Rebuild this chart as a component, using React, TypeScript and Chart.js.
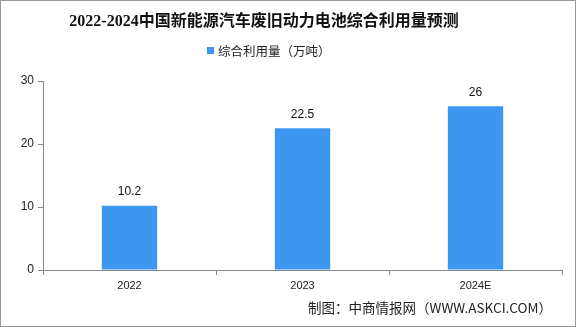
import React, { useEffect, useRef } from "react";
import { Chart, registerables } from "chart.js";

Chart.register(...registerables);

const categories = ["2022", "2023", "2024E"];
const values = [10.2, 22.5, 26];
const seriesName = "综合利用量（万吨）";
const titleText = "2022-2024中国新能源汽车废旧动力电池综合利用量预测";
const sourceText = "制图：中商情报网（WWW.ASKCI.COM）";
const yTicks = [0, 10, 20, 30];

const BAR = "#3d96ef";

const overlay = {
  id: "overlay",
  afterDraw(chart: any) {
    const ctx = chart.ctx;
    ctx.save();
    // title
    ctx.fillStyle = "#111";
    ctx.font = "bold 16px 'Liberation Serif', 'Noto Sans CJK SC', serif";
    ctx.textAlign = "center";
    ctx.textBaseline = "middle";
    ctx.fillText(titleText, 264, 22);
    // legend
    ctx.fillStyle = BAR;
    ctx.fillRect(207, 47, 7, 7);
    ctx.fillStyle = "#222";
    ctx.font = "12.5px 'Noto Sans CJK SC', sans-serif";
    ctx.textAlign = "left";
    ctx.fillText(seriesName, 218, 51);
    // data labels
    const meta = chart.getDatasetMeta(0);
    ctx.font = "12px 'Liberation Sans', 'DejaVu Sans', sans-serif";
    ctx.textAlign = "center";
    ctx.textBaseline = "bottom";
    ctx.fillStyle = "#111";
    meta.data.forEach((bar: any, i: number) => {
      ctx.fillText(String(values[i]), bar.x, bar.y - 8);
    });
    // source
    ctx.font = "13.5px 'Noto Sans CJK SC', sans-serif";
    ctx.textAlign = "right";
    ctx.textBaseline = "middle";
    ctx.fillStyle = "#222";
    ctx.fillText(sourceText, 552, 308);
    ctx.restore();
  },
};

export default function App() {
  const ref = useRef<HTMLCanvasElement>(null);
  useEffect(() => {
    const chart = new Chart(ref.current!, {
      type: "bar",
      data: {
        labels: categories,
        datasets: [
          {
            label: seriesName,
            data: values,
            backgroundColor: BAR,
            barPercentage: 0.32,
            categoryPercentage: 1,
          },
        ],
      },
      options: {
        animation: false,
        responsive: false,
        maintainAspectRatio: false,
        layout: { padding: { top: 81, bottom: 37, left: 0, right: 14 } },
        plugins: {
          legend: { display: false },
          title: { display: false },
          tooltip: { enabled: false },
        },
        scales: {
          x: {
            afterFit: (s: any) => {
              s.height = 20;
            },
            grid: {
              offset: true,
              drawOnChartArea: false,
              drawTicks: true,
              tickLength: 5,
              color: "#888",
            },
            border: { color: "#888" },
            ticks: {
              color: "#222",
              padding: 4,
              font: { size: 11, family: "'Liberation Sans', 'DejaVu Sans', sans-serif" },
            },
          },
          y: {
            min: 0,
            max: 30,
            afterFit: (s: any) => {
              s.width = 43;
            },
            afterBuildTicks: (s: any) => {
              s.ticks = yTicks.map((v) => ({ value: v }));
            },
            grid: {
              drawOnChartArea: false,
              drawTicks: true,
              tickLength: 5,
              color: "#888",
            },
            border: { color: "#888" },
            ticks: {
              color: "#222",
              padding: 4,
              font: { size: 12, family: "'Liberation Sans', 'DejaVu Sans', sans-serif" },
            },
          },
        },
      },
      plugins: [overlay],
    });
    return () => chart.destroy();
  }, []);
  return (
    <div
      style={{
        position: "fixed",
        left: 0,
        top: 0,
        width: 576,
        height: 327,
        background: "#fff",
      }}
    >
      <canvas ref={ref} width={576} height={327} style={{ display: "block" }} />
      <div
        style={{
          position: "absolute",
          left: 0,
          top: 0,
          width: 576,
          height: 327,
          boxSizing: "border-box",
          border: "1px solid #999",
          pointerEvents: "none",
        }}
      />
    </div>
  );
}
